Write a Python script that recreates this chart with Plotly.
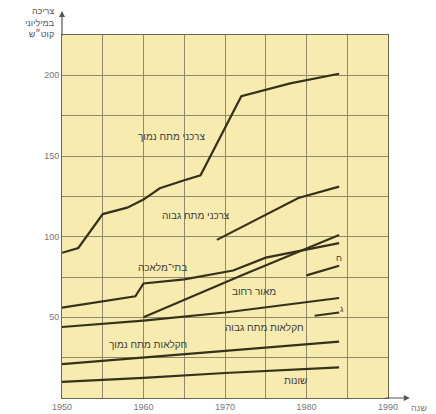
import plotly.graph_objects as go

# Consumption by consumer group, 1950-1984
years_low_v = [1950, 1952, 1955, 1958, 1960, 1962, 1965, 1967, 1972, 1978, 1984]
low_voltage = [90, 93, 114, 118, 123, 130, 135, 138, 187, 195, 201]

years_high_v = [1969, 1979, 1984]
high_voltage = [98, 124, 131]

years_workshops = [1950, 1959, 1960, 1965, 1971, 1975, 1984]
workshops = [56, 63, 71, 73.5, 79, 87, 96]

years_street = [1960, 1972, 1984]
street_light = [50, 76, 101]

years_short_a = [1980, 1984]
short_a = [76, 82]

years_agri_hv = [1950, 1960, 1970, 1978, 1984]
agri_high_v = [44, 48, 53, 58, 62]

years_short_b = [1981, 1984]
short_b = [51, 53]

years_agri_lv = [1950, 1960, 1970, 1984]
agri_low_v = [21, 25, 29, 35]

years_misc = [1950, 1960, 1970, 1984]
misc = [10, 12.5, 15.5, 19]

series = [
    (years_low_v, low_voltage),
    (years_high_v, high_voltage),
    (years_workshops, workshops),
    (years_street, street_light),
    (years_short_a, short_a),
    (years_agri_hv, agri_high_v),
    (years_short_b, short_b),
    (years_agri_lv, agri_low_v),
    (years_misc, misc),
]

# Curve labels: (text, year, value, font size)
labels = [
    ("צרכני מתח נמוך", 1963.4, 162, 10),
    ("צרכני מתח גבוה", 1966.5, 113, 10),
    ("בתי־מלאכה", 1962.3, 81, 10),
    ("מאור רחוב", 1973.6, 66, 10),
    ("חקלאות מתח גבוה", 1974.9, 44, 10),
    ("חקלאות מתח נמוך", 1960.5, 33, 10),
    ("שונות", 1978.7, 11, 10),
    ("ח", 1984.0, 87, 9),
    ("ג", 1984.4, 55, 8),
]

x_ticks = [1950, 1960, 1970, 1980, 1990]
y_ticks = [50, 100, 150, 200]

LINE = "#36311c"
GRID = "#8f8a6a"
FONT = "Liberation Sans"

fig = go.Figure()
for xs, ys in series:
    fig.add_trace(go.Scatter(x=xs, y=ys, mode="lines",
                             line=dict(color=LINE, width=2.2),
                             hoverinfo="skip", showlegend=False))

for text, x, y, size in labels:
    fig.add_annotation(x=x, y=y, text=text, showarrow=False,
                       font=dict(family=FONT, size=size, color="#3b3b3b"))

# axis arrows
fig.add_annotation(x=1950, y=1.066, xref="x", yref="paper", ax=0, ay=26,
                   showarrow=True, arrowhead=2, arrowsize=1, arrowwidth=1.2,
                   arrowcolor="#555555", text="")
fig.add_annotation(x=1.067, y=0, xref="paper", yref="paper", ax=-26, ay=0,
                   showarrow=True, arrowhead=2, arrowsize=1, arrowwidth=1.2,
                   arrowcolor="#555555", text="")

# axis titles
fig.add_annotation(x=-0.015, y=1.085, xref="paper", yref="paper",
                   xanchor="right", yanchor="top", align="right",
                   text="צריכה<br>במיליוני<br>קוט״ש", showarrow=False,
                   font=dict(family=FONT, size=9, color="#555555"))
fig.add_annotation(x=1.065, y=-0.028, xref="paper", yref="paper",
                   xanchor="left", yanchor="middle", text="שנה", showarrow=False,
                   font=dict(family=FONT, size=9, color="#777777"))

fig.update_layout(
    width=436, height=414,
    margin=dict(l=62, r=48, t=35, b=16, autoexpand=False),
    paper_bgcolor="white",
    plot_bgcolor="#f7ebb0",
    xaxis=dict(range=[1950, 1990], tickvals=x_ticks, ticktext=[str(v) for v in x_ticks],
               showgrid=True, gridcolor=GRID, gridwidth=1,
               minor=dict(dtick=5, tick0=1950, showgrid=True, gridcolor=GRID, gridwidth=1),
               showline=True, linecolor="#6b6650", linewidth=1, mirror=True,
               zeroline=False, ticks="", automargin=False,
               tickfont=dict(family=FONT, size=9, color="#777777")),
    yaxis=dict(range=[0, 225], tickvals=y_ticks, ticktext=[str(v) for v in y_ticks],
               showgrid=True, gridcolor=GRID, gridwidth=1,
               minor=dict(dtick=25, tick0=0, showgrid=True, gridcolor=GRID, gridwidth=1),
               showline=True, linecolor="#6b6650", linewidth=1, mirror=True,
               zeroline=False, ticks="", automargin=False,
               tickfont=dict(family=FONT, size=9, color="#777777")),
)

fig.write_html("out.html")
